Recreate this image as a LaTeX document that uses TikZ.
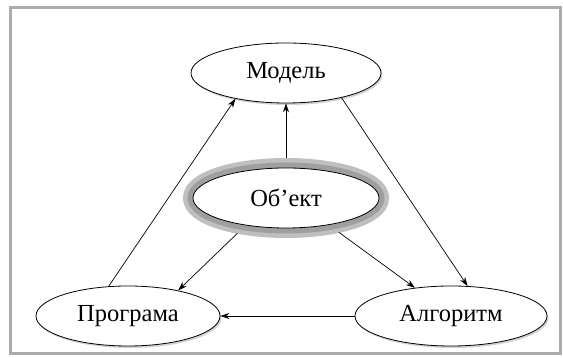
\documentclass[tikz,border=0pt]{standalone}
\usepackage{fontspec}
\setmainfont{Liberation Serif}
\usetikzlibrary{arrows.meta,shapes.geometric,shadows}

\begin{document}
\begin{tikzpicture}[x=1pt,y=1pt,>={Stealth[length=9pt,width=6pt]},
    every node/.style={font=\fontsize{24.5}{28}\selectfont},
    term/.style={ellipse,draw,line width=0.8pt,fill=white,inner sep=0pt,
        minimum height=60pt,
        drop shadow={shadow xshift=1.5pt,shadow yshift=-2pt,fill=gray!70}},
    core/.style={ellipse,draw,line width=0.8pt,fill=white,inner sep=0pt,
        minimum width=186pt,minimum height=60pt,outer sep=10pt,
        preaction={draw=gray!50,line width=20pt},
        preaction={draw=gray!75,line width=11pt}}]
            \useasboundingbox (0,0) rectangle (563,358);
            \draw[gray!65,line width=3pt] (10,4) rectangle (560,350);

            \node[term,minimum width=190pt] (model) at (286,285) {Модель};
            \node[core] (obj) at (286,160) {Об’ект};
            \node[term,minimum width=184pt] (prog) at (128,42) {Програма};
            \node[term,minimum width=192pt] (algo) at (451,42) {Алгоритм};

            \draw[->,line width=0.7pt] (obj.north) -- (model.south);
            \draw[->,line width=0.7pt] (prog.123) -- (model.207);
            \draw[->,line width=0.7pt] (model.336) -- (algo.61);
            \draw[->,line width=0.7pt] (obj.216) -- (prog.27);
            \draw[->,line width=0.7pt] (obj.327) -- (algo.142);
            \draw[->,line width=0.7pt] (algo.west) -- (prog.east);
        \end{tikzpicture}
\end{document}
